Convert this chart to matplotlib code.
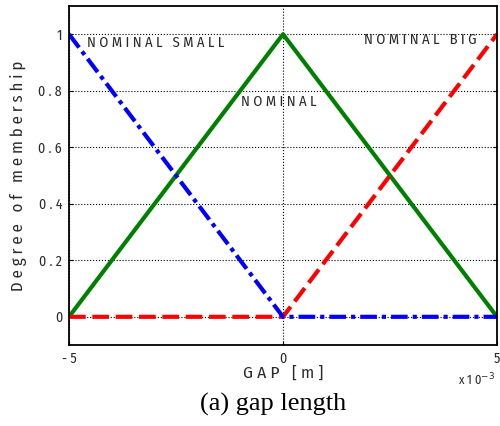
import matplotlib.pyplot as plt

gap = [-5, 0, 5]
nominal_small = [1, 0, 0]
nominal = [0, 1, 0]
nominal_big = [0, 0, 1]
yticks = [0, 0.2, 0.4, 0.6, 0.8, 1]
ytick_labels = ['0', '0 . 2', '0 . 4', '0 . 6', '0 . 8', '1']
xtick_labels = ['- 5', '0', '5']

narrow = ['Fira Sans Condensed', 'DejaVu Sans']
grey = '#2a2a2a'

fig = plt.figure(figsize=(5, 4.26), dpi=100)
ax = fig.add_axes([0.138, 0.19, 0.856, 0.796])

ax.plot(gap, nominal, color='green', lw=3, solid_capstyle='butt')
ax.plot(gap, nominal_big, color='red', lw=3, ls=(0, (4, 1.6)))
ax.plot(gap, nominal_small, color='blue', lw=3, ls=(0, (4, 1.2, 1, 1.2)))

ax.set_xlim(-5, 5)
ax.set_ylim(-0.1, 1.1)
ax.set_yticks(yticks)
ax.set_yticklabels(ytick_labels, family=narrow, fontsize=10, color=grey)
ax.set_xticks(gap)
ax.set_xticklabels(xtick_labels, family=narrow, fontsize=10, color=grey)
ax.tick_params(direction='in', length=3, right=True, pad=5)
ax.grid(True, ls=':', color='black', lw=0.8)
for s in ax.spines.values():
    s.set_linewidth(1.3)

ax.set_ylabel('D e g r e e   o f   m e m b e r s h i p', family=narrow,
              fontsize=12, color=grey, labelpad=8)
ax.set_xlabel('G A P   [ m ]', family=narrow, fontsize=12.5, color=grey, labelpad=-1)

ax.text(-4.58, 0.955, 'N O M I N A L   S M A L L', family=narrow, fontsize=10.5, color=grey)
ax.text(-0.1, 0.745, 'N O M I N A L', family=narrow, fontsize=10.5, color=grey, ha='center')
ax.text(1.9, 0.965, 'N O M I N A L   B I G', family=narrow, fontsize=10.5, color=grey)

fig.text(0.915, 0.095, r'x 1 0$^{-3}$', family=narrow, fontsize=9, color=grey)
fig.text(0.547, 0.05, '(a) gap length', family='Liberation Serif', fontsize=19, ha='center', va='center')

fig.savefig('out.png', dpi=100)
